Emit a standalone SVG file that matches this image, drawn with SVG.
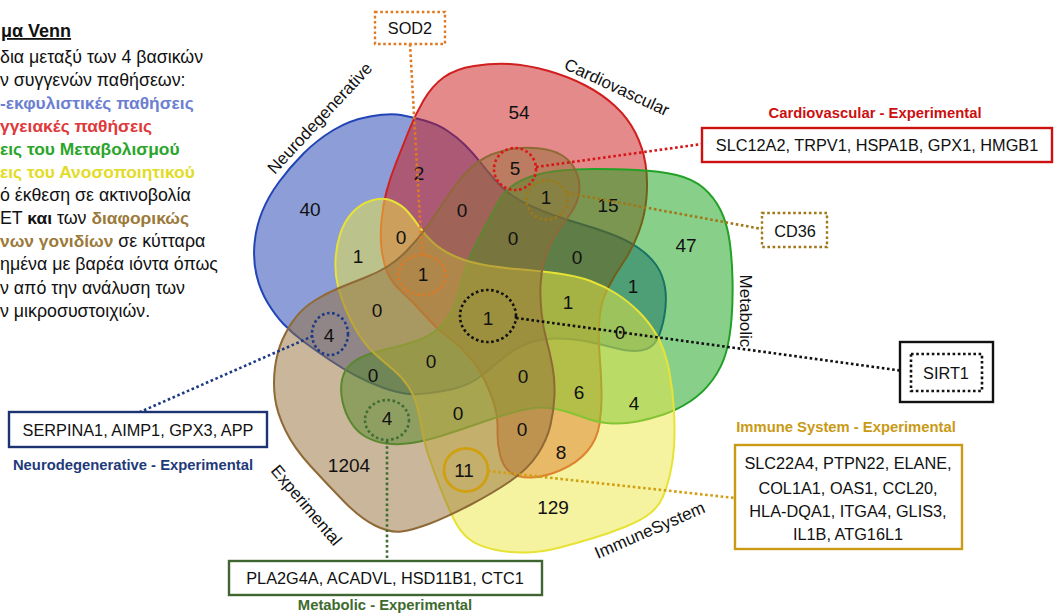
<svg xmlns="http://www.w3.org/2000/svg" width="1055" height="613" viewBox="0 0 1055 613">
<style>
text { font-family: "Liberation Sans", Arial, sans-serif; }
.set path { stroke-width: 2; fill-opacity: 0.5; stroke-linejoin: round; }
.cnt { font-size: 19px; fill: #111; text-anchor: middle; }
.lbl { font-size: 17px; fill: #111; text-anchor: middle; }
.dot { fill: none; stroke-width: 2.6; stroke-dasharray: 2.6 2.6; }
.box { fill: #fff; stroke-width: 2.4; }
.gene { font-size: 16.3px; fill: #111; text-anchor: middle; }
.ttl { font-size: 14.8px; font-weight: bold; text-anchor: middle; }
.note { font-size: 17.8px; fill: #111; }
.b { font-weight: bold; font-size: 17.4px; }
</style>
<rect width="1055" height="613" fill="#fff"/>

<!-- explanatory text, left margin -->
<g id="legend-text" class="note">
  <text x="1" y="37" class="b" style="font-size:18px;text-decoration:underline">μα Venn</text>
  <text x="0" y="62.5">δια μεταξύ των 4 βασικών</text>
  <text x="0" y="85.5">ν συγγενών παθήσεων:</text>
  <text x="0" y="108.5" class="b" fill="#6c7fd0">-εκφυλιστικές παθήσεις</text>
  <text x="0" y="131.5" class="b" fill="#e0393b">γγειακές παθήσεις</text>
  <text x="0" y="154.5" class="b" fill="#2aa52a">εις του Μεταβολισμού</text>
  <text x="0" y="177.5" class="b" fill="#e2dc26">εις του Ανοσοποιητικού</text>
  <text x="0" y="200.5">ό έκθεση σε ακτινοβολία</text>
  <text x="0" y="223.5">ET <tspan class="b">και</tspan> των <tspan class="b" fill="#9b7a3a">διαφορικώς</tspan></text>
  <text x="0" y="247"><tspan class="b" fill="#9b7a3a">νων γονιδίων</tspan> σε κύτταρα</text>
  <text x="0" y="270">ημένα με βαρέα ιόντα όπως</text>
  <text x="0" y="293.5">ν από την ανάλυση των</text>
  <text x="0" y="317">ν μικροσυστοιχιών.</text>
</g>

<!-- five-set Venn, one group per set -->
<g class="set">
  <g id="set-neurodegenerative">
    <path fill="#1a3cb0" stroke="#2145b5" d="M370,116.5 Q390,113 401,115 Q412,117 424.5,120.5 Q437,124 447,130.5 Q457,137 465,145 Q473,153 480.5,162.5 Q488,172 495.5,180.5 Q503,189 511.5,195 Q520,201 531,206 Q542,211 554.5,215.5 Q567,220 581,224 Q595,228 611,234 Q627,240 638.5,248 Q650,256 656.5,265.5 Q663,275 665,287.5 Q667,300 664.5,315 Q662,330 657,339.5 Q652,349 641,350.5 Q630,352 615,348 Q600,344 585,341 Q570,338 555,338.5 Q540,339 530,342.5 Q520,346 512.5,351 Q505,356 496,364 Q487,372 477.5,378.5 Q468,385 456.5,388 Q445,391 430,393 Q415,395 405,393.5 Q395,392 382.5,387.5 Q370,383 356.5,376 Q343,369 329,359.5 Q315,350 303.5,341.5 Q292,333 283.5,324 Q275,315 267.5,302.5 Q260,290 256.5,275 Q253,260 254.5,243.5 Q256,227 262,212 Q268,197 279,182 Q290,167 303.5,153.5 Q317,140 333.5,130 Q350,120 370,116.5 Z"/>
    <text class="lbl" x="324" y="122" transform="rotate(-47 324 122)">Neurodegenerative</text>
  </g>
  <g id="set-cardiovascular">
    <path fill="#cb1515" stroke="#d11f1f" d="M474,66 Q493,63 510,64 Q527,65 547,70.5 Q567,76 584.5,85 Q602,94 615,106 Q628,118 635.5,133 Q643,148 645.5,164 Q648,180 646.5,197.5 Q645,215 639,231.5 Q633,248 623.5,262 Q614,276 607.5,289 Q601,302 599.5,318.5 Q598,335 599.5,353.5 Q601,372 601.5,390 Q602,408 599.5,424 Q597,440 587,451.5 Q577,463 561,470 Q545,477 531.5,477.5 Q518,478 510.5,472.5 Q503,467 500,454.5 Q497,442 497.5,430 Q498,418 495,407 Q492,396 485.5,382 Q479,368 469.5,357 Q460,346 448,337 Q436,328 424.5,315 Q413,302 402.5,292.5 Q392,283 387.5,272.5 Q383,262 381.5,248.5 Q380,235 381.5,220 Q383,205 386.5,191.5 Q390,178 396,163 Q402,148 408.5,131.5 Q415,115 423.5,100.5 Q432,86 443.5,77.5 Q455,69 474,66 Z"/>
    <text class="lbl" x="614.5" y="92.5" transform="rotate(25 614.5 92.5)">Cardiovascular</text>
  </g>
  <g id="set-metabolic">
    <path fill="#11a115" stroke="#22a126" d="M497.5,203.5 Q503,193 511.5,186.5 Q520,180 532.5,176 Q545,172 561,170.5 Q577,169 595,169 Q613,169 636.5,170 Q660,171 676.5,175 Q693,179 703.5,188 Q714,197 720.5,210 Q727,223 729.5,240.5 Q732,258 732.5,279 Q733,300 731.5,319 Q730,338 726,352.5 Q722,367 712.5,380 Q703,393 690,401.5 Q677,410 663.5,414.5 Q650,419 637.5,421.5 Q625,424 612.5,423.5 Q600,423 588.5,419 Q577,415 566,411.5 Q555,408 543.5,407.5 Q532,407 514.5,412 Q497,417 478.5,423.5 Q460,430 442.5,435.5 Q425,441 411.5,443 Q398,445 386.5,443.5 Q375,442 366,437 Q357,432 351,422.5 Q345,413 342.5,401.5 Q340,390 342,380 Q344,370 351,364 Q358,358 368,354.5 Q378,351 391.5,348 Q405,345 417.5,340.5 Q430,336 439,328 Q448,320 453,308.5 Q458,297 461.5,282.5 Q465,268 471.5,254 Q478,240 485,227 Q492,214 497.5,203.5 Z"/>
    <text class="lbl" x="740" y="311" transform="rotate(90 740 311)">Metabolic</text>
  </g>
  <g id="set-immune">
    <path fill="#ebe741" stroke="#e7e236" d="M371.5,200.5 Q383,197 392.5,201 Q402,205 408,212 Q414,219 419.5,227 Q425,235 432.5,242 Q440,249 451,254.5 Q462,260 477.5,263.5 Q493,267 516.5,269 Q540,271 558.5,273.5 Q577,276 590.5,281 Q604,286 616,293.5 Q628,301 639,312 Q650,323 657.5,336.5 Q665,350 669,370 Q673,390 674,411 Q675,432 674,447 Q673,462 670,474.5 Q667,487 663,496.5 Q659,506 650.5,513 Q642,520 626,526.5 Q610,533 593.5,538 Q577,543 560,547.5 Q543,552 526.5,552.5 Q510,553 494,549.5 Q478,546 469,539 Q460,532 453.5,518.5 Q447,505 440.5,488.5 Q434,472 429,457 Q424,442 422,429.5 Q420,417 417,406 Q414,395 408,386 Q402,377 393,369.5 Q384,362 375,354 Q366,346 358.5,334 Q351,322 346,310 Q341,298 338,286.5 Q335,275 335.5,261 Q336,247 340,234.5 Q344,222 352,213 Q360,204 371.5,200.5 Z"/>
    <text class="lbl" x="652" y="535.5" transform="rotate(-23.5 652 535.5)">ImmuneSystem</text>
  </g>
  <g id="set-experimental">
    <path fill="#936d37" stroke="#8f6a36" d="M514.5,148.5 Q527,147 540,148.5 Q553,150 561.5,155 Q570,160 574.5,168.5 Q579,177 579.5,185.5 Q580,194 576.5,202.5 Q573,211 567,218.5 Q561,226 554.5,236.5 Q548,247 544.5,259.5 Q541,272 540.5,285 Q540,298 541.5,312.5 Q543,327 546.5,340 Q550,353 552.5,366.5 Q555,380 554.5,395 Q554,410 550.5,425 Q547,440 537.5,454.5 Q528,469 510.5,481 Q493,493 470,505 Q447,517 430,523.5 Q413,530 401.5,531.5 Q390,533 375,525.5 Q360,518 343.5,501 Q327,484 310.5,466 Q294,448 285.5,430.5 Q277,413 275,398 Q273,383 275,367.5 Q277,352 282.5,339.5 Q288,327 296,317 Q304,307 315.5,300 Q327,293 339,288 Q351,283 364,278 Q377,273 387.5,266.5 Q398,260 407.5,250 Q417,240 424.5,230 Q432,220 439.5,208.5 Q447,197 455,186 Q463,175 472,167 Q481,159 491.5,154.5 Q502,150 514.5,148.5 Z"/>
    <text class="lbl" x="302" y="509" transform="rotate(50 302 509)">Experimental</text>
  </g>
</g>

<!-- region counts -->
<g id="counts" class="cnt">
  <text x="519" y="119">54</text>
  <text x="310" y="216">40</text>
  <text x="419" y="180">2</text>
  <text x="515" y="175">5</text>
  <text x="546" y="204">1</text>
  <text x="608" y="212">15</text>
  <text x="686" y="252">47</text>
  <text x="462" y="217">0</text>
  <text x="401" y="244">0</text>
  <text x="513" y="245">0</text>
  <text x="577" y="264">0</text>
  <text x="358" y="263">1</text>
  <text x="423" y="281">1</text>
  <text x="633" y="293">1</text>
  <text x="568" y="309">1</text>
  <text x="377" y="317">0</text>
  <text x="488" y="325">1</text>
  <text x="620" y="339">0</text>
  <text x="329" y="342">4</text>
  <text x="431" y="368">0</text>
  <text x="373" y="382">0</text>
  <text x="523" y="383">0</text>
  <text x="579" y="399">6</text>
  <text x="634" y="410">4</text>
  <text x="387" y="425">4</text>
  <text x="458" y="420">0</text>
  <text x="522" y="436">0</text>
  <text x="561" y="459">8</text>
  <text x="349" y="472">1204</text>
  <text x="464" y="477">11</text>
  <text x="553" y="514">129</text>
</g>

<!-- highlight rings and leader lines -->
<g id="connectors">
  <ellipse class="dot" cx="515" cy="169" rx="21" ry="21" stroke="#e01515"/>
  <ellipse class="dot" cx="547" cy="200" rx="20.5" ry="19.5" stroke="#a07818"/>
  <ellipse class="dot" cx="422" cy="275" rx="23.5" ry="20" stroke="#e07a22"/>
  <ellipse class="dot" cx="488" cy="316" rx="28" ry="26" stroke="#111"/>
  <ellipse class="dot" cx="330" cy="334" rx="18" ry="21" stroke="#1d3a85"/>
  <ellipse class="dot" cx="387" cy="420" rx="22" ry="20" stroke="#3f6d33"/>
  <ellipse cx="466" cy="470" rx="22" ry="21.5" fill="none" stroke="#d0a012" stroke-width="2.8"/>
  <path class="dot" d="M410,44 L422,255" stroke="#e07a22"/>
  <path class="dot" d="M536,167 L702,144" stroke="#d41616"/>
  <path class="dot" d="M567,193 L762,229" stroke="#a07818"/>
  <path class="dot" d="M516,318 L911,372" stroke="#111"/>
  <path class="dot" d="M313,336 L140,412" stroke="#1d3a85"/>
  <path class="dot" d="M387,441 L387,561" stroke="#3f6d33"/>
  <path class="dot" d="M488,471 L735,498" stroke="#d0a012"/>
</g>

<!-- callout boxes -->
<g id="box-sod2">
  <rect class="box dot" x="375" y="12" width="70" height="32" stroke="#e07a22" style="fill:#fff"/>
  <text class="gene" x="410" y="34">SOD2</text>
</g>
<g id="box-cardio-exp">
  <text class="ttl" x="875" y="118" fill="#cc1010">Cardiovascular - Experimental</text>
  <rect class="box" x="702" y="128" width="350" height="34" stroke="#cc1111"/>
  <text class="gene" x="877" y="151">SLC12A2, TRPV1, HSPA1B, GPX1, HMGB1</text>
</g>
<g id="box-cd36">
  <rect class="box dot" x="762" y="213" width="65" height="34" stroke="#a07818" style="fill:#fff"/>
  <text class="gene" x="795" y="237">CD36</text>
</g>
<g id="box-sirt1">
  <rect class="box" x="900" y="342" width="93" height="60" stroke="#111"/>
  <rect class="dot" x="911" y="354" width="71" height="37" stroke="#111"/>
  <text class="gene" x="946" y="379">SIRT1</text>
</g>
<g id="box-neuro-exp">
  <rect class="box" x="9" y="412" width="258" height="35" stroke="#1d3272" stroke-width="2.2"/>
  <text class="gene" x="138" y="436">SERPINA1, AIMP1, GPX3, APP</text>
  <text class="ttl" x="133" y="470" fill="#1f3a7a">Neurodegenerative - Experimental</text>
</g>
<g id="box-immune-exp">
  <text class="ttl" x="846" y="432" fill="#c99a14">Immune System - Experimental</text>
  <rect class="box" x="735" y="445" width="227" height="104" stroke="#c99a14"/>
  <text class="gene" x="848" y="469">SLC22A4, PTPN22, ELANE,</text>
  <text class="gene" x="848" y="494">COL1A1, OAS1, CCL20,</text>
  <text class="gene" x="848" y="517">HLA-DQA1, ITGA4, GLIS3,</text>
  <text class="gene" x="848" y="540">IL1B, ATG16L1</text>
</g>
<g id="box-metabolic-exp">
  <rect class="box" x="229" y="561" width="313" height="34" stroke="#3f6530" stroke-width="2.2"/>
  <text class="gene" x="385" y="584">PLA2G4A, ACADVL, HSD11B1, CTC1</text>
  <text class="ttl" x="385" y="610" fill="#3d6b2e">Metabolic - Experimental</text>
</g>
</svg>
